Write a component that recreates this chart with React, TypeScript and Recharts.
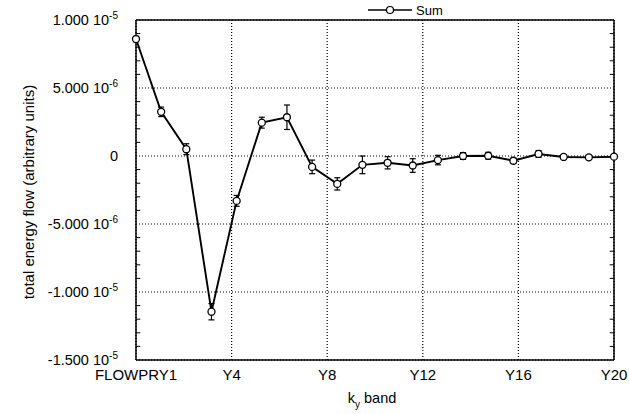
import { LineChart, Line, XAxis, YAxis, CartesianGrid, ErrorBar, ReferenceLine } from "recharts";

const bands = [
  "FLOWPRY1", "Y2", "Y3", "Y4", "Y5", "Y6", "Y7", "Y8", "Y9", "Y10",
  "Y11", "Y12", "Y13", "Y14", "Y15", "Y16", "Y17", "Y18", "Y19", "Y20",
];

const sumValues = [
  8.6e-6, 3.25e-6, 0.5e-6, -11.45e-6, -3.3e-6, 2.45e-6, 2.85e-6, -0.8e-6,
  -2.05e-6, -0.65e-6, -0.5e-6, -0.7e-6, -0.3e-6, 0.0, 0.02e-6, -0.35e-6,
  0.15e-6, -0.07e-6, -0.1e-6, -0.05e-6,
];

const sumErrors = [
  0.2e-6, 0.35e-6, 0.4e-6, 0.6e-6, 0.4e-6, 0.4e-6, 0.9e-6, 0.5e-6, 0.45e-6,
  0.65e-6, 0.45e-6, 0.5e-6, 0.35e-6, 0.25e-6, 0.25e-6, 0.2e-6, 0.25e-6, 0.15e-6,
  0.15e-6, 0.15e-6,
];

const xTickPositions = [0, 3.8, 7.6, 11.4, 15.2, 19];
const xTickLabels = ["FLOWPRY1", "Y4", "Y8", "Y12", "Y16", "Y20"];

const yTicks = [-1.5e-5, -1e-5, -5e-6, 0, 5e-6, 1e-5];
const yTickMantissas = ["-1.500", "-1.000", "-5.000", "0", "5.000", "1.000"];
const yTickExponents = ["-5", "-5", "-6", "", "-6", "-5"];

// minor ticks every 1e-6 between the major ones
const yMinorTicks = Array.from({ length: 24 }, (_, i) => (i - 14) * 1e-6).filter(
  (v) => Math.round(v * 1e6) % 5 !== 0
);
const X_MIN = 0;
const X_MAX = 19;
const MINOR_LEN = 0.17; // in x data units, about 4px

const data = bands.map((band, i) => ({
  x: i,
  band,
  sum: sumValues[i],
  err: sumErrors[i],
}));

const FONT = "'Liberation Sans', Arial, Helvetica, sans-serif";

function YTick(props: any) {
  const { x, y, payload } = props;
  const i = yTicks.findIndex((t) => Math.abs(t - payload.value) < 1e-9);
  if (i < 0) return <g />;
  const exp = yTickExponents[i];
  return (
    <text x={x} y={y + 5} textAnchor="end" fontSize={14.5} fontFamily={FONT} fill="#000">
      {exp ? `${yTickMantissas[i]} 10` : yTickMantissas[i]}
      {exp && (
        <tspan dy={-6} fontSize={10}>
          {exp}
        </tspan>
      )}
    </text>
  );
}

const NoTick = () => <g />;

function XTitle(props: any) {
  const { viewBox } = props;
  const cx = viewBox.x + viewBox.width / 2;
  return (
    <text x={cx - 3} y={403} textAnchor="middle" fontSize={14.5} fontFamily={FONT} fill="#000">
      k
      <tspan dy={5} fontSize={10}>y</tspan>
      <tspan dy={-5}> band</tspan>
    </text>
  );
}

function YTitle() {
  return (
    <text
      x={28}
      y={192}
      textAnchor="middle"
      fontSize={15}
      fontFamily={FONT}
      fill="#000"
      transform="rotate(-90 28 192)"
      dominantBaseline="central"
    >
      total energy flow (arbitrary units)
    </text>
  );
}

function LegendBox() {
  return (
    <g>
      <line x1={368} y1={10} x2={412} y2={10} stroke="#000" strokeWidth={1.5} />
      <circle cx={390} cy={10} r={3.5} fill="#fff" stroke="#000" strokeWidth={1.2} />
      <text x={416} y={14.5} fontSize={13} fontFamily={FONT} fill="#000">
        Sum
      </text>
    </g>
  );
}

export default function App() {
  return (
    <div style={{ position: "fixed", left: 0, top: 0, background: "#fff" }}>
      <LineChart
        width={629}
        height={414}
        data={data}
        margin={{ top: 19, right: 15, left: 16, bottom: 24 }}
      >
        <CartesianGrid
          stroke="#000"
          strokeDasharray="1 2"
          strokeWidth={1.2}
          horizontalValues={yTicks}
          verticalValues={xTickPositions}
        />
        <XAxis
          type="number"
          dataKey="x"
          domain={[X_MIN, X_MAX]}
          ticks={xTickPositions}
          tickFormatter={(v: number) => {
            const i = xTickPositions.findIndex((t) => Math.abs(t - v) < 1e-6);
            return i >= 0 ? xTickLabels[i] : "";
          }}
          interval={0}
          height={30}
          axisLine={{ stroke: "#000", strokeWidth: 1.5 }}
          tickLine={false}
          tickSize={0}
          tickMargin={9}
          tick={{ fill: "#000", fontSize: 15, fontFamily: FONT }}
          label={{ content: XTitle }}
        />
        <XAxis
          xAxisId="top"
          orientation="top"
          type="number"
          dataKey="x"
          domain={[X_MIN, X_MAX]}
          height={1}
          ticks={[]}
          tick={NoTick}
          tickLine={false}
          axisLine={{ stroke: "#000", strokeWidth: 1.5 }}
          label={{ content: LegendBox }}
        />
        <YAxis
          type="number"
          domain={[-1.5e-5, 1e-5]}
          ticks={yTicks}
          interval={0}
          width={120}
          axisLine={{ stroke: "#000", strokeWidth: 1.5 }}
          tickLine={false}
          tickSize={0}
          tickMargin={18}
          tick={YTick}
          label={{ content: YTitle }}
        />
        <ReferenceLine x={X_MAX} stroke="#000" strokeWidth={1.5} />
        {yMinorTicks.map((v) => (
          <ReferenceLine
            key={`l${v}`}
            segment={[
              { x: X_MIN, y: v },
              { x: X_MIN + MINOR_LEN, y: v },
            ]}
            stroke="#000"
            strokeWidth={1}
          />
        ))}
        {yMinorTicks.map((v) => (
          <ReferenceLine
            key={`r${v}`}
            segment={[
              { x: X_MAX - MINOR_LEN, y: v },
              { x: X_MAX, y: v },
            ]}
            stroke="#000"
            strokeWidth={1}
          />
        ))}
        <Line
          type="linear"
          dataKey="sum"
          stroke="#000"
          strokeWidth={1.9}
          isAnimationActive={false}
          dot={{ r: 3.5, fill: "#fff", stroke: "#000", strokeWidth: 1.3 }}
          activeDot={false}
        >
          <ErrorBar dataKey="err" direction="y" width={3} stroke="#000" strokeWidth={1.2} />
        </Line>
      </LineChart>
    </div>
  );
}
